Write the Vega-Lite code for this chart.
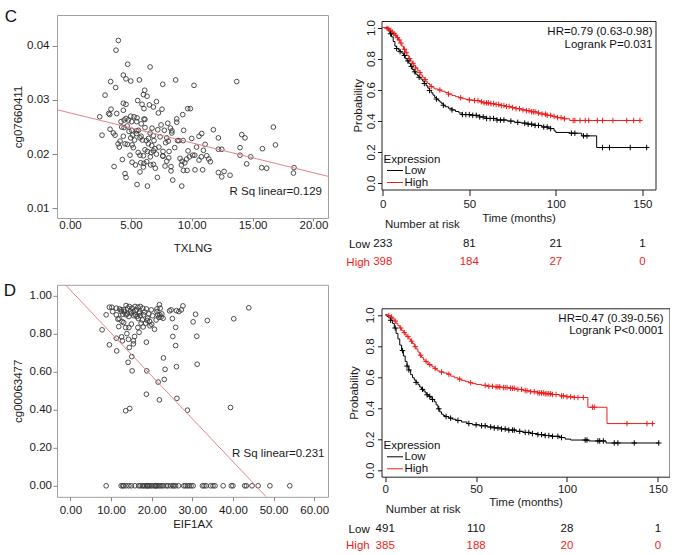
{
"$schema":"https://vega.github.io/schema/vega-lite/v6.json",
"padding":{"left":3,"top":7,"right":0,"bottom":0},
"spacing":15.5,
"columns":2,
"align":"none",
"config":{
 "font":"Liberation Sans",
 "view":{"stroke":"#9a9a9a"},
 "axis":{"grid":false,"domain":false,"labelFont":"Liberation Sans","titleFont":"Liberation Sans","labelFontSize":11.5,"titleFontSize":11.5,"titleFontWeight":"normal","labelColor":"#1a1a1a","titleColor":"#1a1a1a","tickColor":"#1a1a1a","labelFlush":false,"labelOverlap":false},
 "title":{"font":"Liberation Sans","fontSize":11.5,"fontWeight":"normal","color":"#1a1a1a"},
 "legend":{"labelFont":"Liberation Sans","titleFont":"Liberation Sans"}
},
"resolve":{"scale":{"color":"independent"},"legend":{"color":"independent"}},
"datasets":{
 "scatterC":[
  {"TXLNG":3.97,"cg07660411":0.0410},{"TXLNG":3.78,"cg07660411":0.0392},{"TXLNG":4.74,"cg07660411":0.0366},{"TXLNG":6.58,"cg07660411":0.0361},{"TXLNG":4.38,"cg07660411":0.0346},{"TXLNG":4.60,"cg07660411":0.0339},{"TXLNG":3.34,"cg07660411":0.0334},{"TXLNG":4.99,"cg07660411":0.0335},{"TXLNG":5.70,"cg07660411":0.0337},{"TXLNG":7.62,"cg07660411":0.0329},{"TXLNG":8.68,"cg07660411":0.0337},{"TXLNG":10.19,"cg07660411":0.0327},{"TXLNG":13.70,"cg07660411":0.0334},{"TXLNG":3.75,"cg07660411":0.0323},{"TXLNG":2.88,"cg07660411":0.0309},{"TXLNG":6.14,"cg07660411":0.0318},{"TXLNG":6.03,"cg07660411":0.0310},{"TXLNG":6.33,"cg07660411":0.0307},{"TXLNG":5.56,"cg07660411":0.0299},{"TXLNG":7.10,"cg07660411":0.0297},
  {"TXLNG":4.38,"cg07660411":0.0294},{"TXLNG":4.60,"cg07660411":0.0292},{"TXLNG":5.92,"cg07660411":0.0292},{"TXLNG":6.52,"cg07660411":0.0291},{"TXLNG":6.08,"cg07660411":0.0284},{"TXLNG":7.56,"cg07660411":0.0283},{"TXLNG":6.85,"cg07660411":0.0287},{"TXLNG":9.67,"cg07660411":0.0284},{"TXLNG":9.89,"cg07660411":0.0284},{"TXLNG":3.37,"cg07660411":0.0283},{"TXLNG":3.84,"cg07660411":0.0275},{"TXLNG":3.18,"cg07660411":0.0275},{"TXLNG":3.26,"cg07660411":0.0273},{"TXLNG":4.38,"cg07660411":0.0281},{"TXLNG":7.26,"cg07660411":0.0276},{"TXLNG":9.26,"cg07660411":0.0273},{"TXLNG":2.44,"cg07660411":0.0269},{"TXLNG":4.99,"cg07660411":0.0270},{"TXLNG":5.26,"cg07660411":0.0269},{"TXLNG":5.51,"cg07660411":0.0267},
  {"TXLNG":4.60,"cg07660411":0.0266},{"TXLNG":6.08,"cg07660411":0.0265},{"TXLNG":6.16,"cg07660411":0.0264},{"TXLNG":4.44,"cg07660411":0.0263},{"TXLNG":4.79,"cg07660411":0.0263},{"TXLNG":8.77,"cg07660411":0.0265},{"TXLNG":4.19,"cg07660411":0.0260},{"TXLNG":5.07,"cg07660411":0.0260},{"TXLNG":5.48,"cg07660411":0.0260},{"TXLNG":8.77,"cg07660411":0.0259},{"TXLNG":8.03,"cg07660411":0.0257},{"TXLNG":7.48,"cg07660411":0.0254},{"TXLNG":6.74,"cg07660411":0.0248},{"TXLNG":6.16,"cg07660411":0.0249},{"TXLNG":4.44,"cg07660411":0.0249},{"TXLNG":4.25,"cg07660411":0.0250},{"TXLNG":8.25,"cg07660411":0.0248},{"TXLNG":11.78,"cg07660411":0.0245},{"TXLNG":14.11,"cg07660411":0.0236},{"TXLNG":16.71,"cg07660411":0.0250},
  {"TXLNG":3.29,"cg07660411":0.0246},{"TXLNG":2.63,"cg07660411":0.0235},{"TXLNG":3.56,"cg07660411":0.0239},{"TXLNG":3.70,"cg07660411":0.0235},{"TXLNG":5.07,"cg07660411":0.0244},{"TXLNG":5.48,"cg07660411":0.0243},{"TXLNG":5.62,"cg07660411":0.0244},{"TXLNG":5.15,"cg07660411":0.0235},{"TXLNG":4.99,"cg07660411":0.0230},{"TXLNG":4.38,"cg07660411":0.0233},{"TXLNG":5.84,"cg07660411":0.0233},{"TXLNG":5.75,"cg07660411":0.0230},{"TXLNG":6.58,"cg07660411":0.0239},{"TXLNG":6.85,"cg07660411":0.0234},{"TXLNG":7.21,"cg07660411":0.0245},{"TXLNG":7.75,"cg07660411":0.0244},{"TXLNG":8.38,"cg07660411":0.0243},{"TXLNG":8.36,"cg07660411":0.0239},{"TXLNG":9.34,"cg07660411":0.0244},{"TXLNG":10.82,"cg07660411":0.0238},
  {"TXLNG":10.60,"cg07660411":0.0233},{"TXLNG":12.19,"cg07660411":0.0230},{"TXLNG":14.38,"cg07660411":0.0230},{"TXLNG":4.11,"cg07660411":0.0224},{"TXLNG":4.52,"cg07660411":0.0219},{"TXLNG":4.71,"cg07660411":0.0218},{"TXLNG":5.10,"cg07660411":0.0217},{"TXLNG":4.05,"cg07660411":0.0213},{"TXLNG":6.27,"cg07660411":0.0225},{"TXLNG":6.44,"cg07660411":0.0219},{"TXLNG":6.71,"cg07660411":0.0216},{"TXLNG":6.90,"cg07660411":0.0225},{"TXLNG":6.99,"cg07660411":0.0210},{"TXLNG":6.16,"cg07660411":0.0208},{"TXLNG":6.36,"cg07660411":0.0205},{"TXLNG":6.66,"cg07660411":0.0203},{"TXLNG":7.10,"cg07660411":0.0200},{"TXLNG":7.64,"cg07660411":0.0205},{"TXLNG":7.64,"cg07660411":0.0196},{"TXLNG":8.11,"cg07660411":0.0193},
  {"TXLNG":8.14,"cg07660411":0.0205},{"TXLNG":7.86,"cg07660411":0.0221},{"TXLNG":8.07,"cg07660411":0.0224},{"TXLNG":8.84,"cg07660411":0.0225},{"TXLNG":8.95,"cg07660411":0.0225},{"TXLNG":9.30,"cg07660411":0.0225},{"TXLNG":10.00,"cg07660411":0.0229},{"TXLNG":10.08,"cg07660411":0.0198},{"TXLNG":9.81,"cg07660411":0.0195},{"TXLNG":9.59,"cg07660411":0.0191},{"TXLNG":9.04,"cg07660411":0.0192},{"TXLNG":9.21,"cg07660411":0.0187},{"TXLNG":9.43,"cg07660411":0.0184},{"TXLNG":9.15,"cg07660411":0.0180},{"TXLNG":9.32,"cg07660411":0.0170},{"TXLNG":9.62,"cg07660411":0.0170},{"TXLNG":10.25,"cg07660411":0.0198},{"TXLNG":10.79,"cg07660411":0.0195},{"TXLNG":11.23,"cg07660411":0.0197},{"TXLNG":11.40,"cg07660411":0.0191},
  {"TXLNG":11.53,"cg07660411":0.0186},{"TXLNG":10.60,"cg07660411":0.0189},{"TXLNG":10.90,"cg07660411":0.0171},{"TXLNG":10.27,"cg07660411":0.0171},{"TXLNG":10.96,"cg07660411":0.0207},{"TXLNG":12.19,"cg07660411":0.0209},{"TXLNG":12.47,"cg07660411":0.0209},{"TXLNG":13.97,"cg07660411":0.0212},{"TXLNG":13.97,"cg07660411":0.0198},{"TXLNG":14.85,"cg07660411":0.0195},{"TXLNG":14.52,"cg07660411":0.0182},{"TXLNG":15.81,"cg07660411":0.0210},{"TXLNG":15.75,"cg07660411":0.0175},{"TXLNG":16.16,"cg07660411":0.0174},{"TXLNG":16.88,"cg07660411":0.0217},{"TXLNG":18.41,"cg07660411":0.0175},{"TXLNG":18.36,"cg07660411":0.0165},{"TXLNG":12.19,"cg07660411":0.0166},{"TXLNG":12.47,"cg07660411":0.0158},{"TXLNG":12.66,"cg07660411":0.0168},
  {"TXLNG":13.15,"cg07660411":0.0161},{"TXLNG":9.18,"cg07660411":0.0141},{"TXLNG":3.62,"cg07660411":0.0177},{"TXLNG":4.30,"cg07660411":0.0190},{"TXLNG":4.93,"cg07660411":0.0198},{"TXLNG":5.10,"cg07660411":0.0185},{"TXLNG":5.38,"cg07660411":0.0180},{"TXLNG":4.52,"cg07660411":0.0164},{"TXLNG":4.60,"cg07660411":0.0157},{"TXLNG":5.51,"cg07660411":0.0144},{"TXLNG":5.75,"cg07660411":0.0198},{"TXLNG":5.81,"cg07660411":0.0184},{"TXLNG":5.75,"cg07660411":0.0167},{"TXLNG":6.08,"cg07660411":0.0183},{"TXLNG":6.30,"cg07660411":0.0186},{"TXLNG":6.03,"cg07660411":0.0176},{"TXLNG":6.36,"cg07660411":0.0141},{"TXLNG":6.63,"cg07660411":0.0180},{"TXLNG":6.85,"cg07660411":0.0181},{"TXLNG":7.01,"cg07660411":0.0174},
  {"TXLNG":7.18,"cg07660411":0.0157},{"TXLNG":7.62,"cg07660411":0.0197},{"TXLNG":7.81,"cg07660411":0.0178},{"TXLNG":8.30,"cg07660411":0.0177},{"TXLNG":8.30,"cg07660411":0.0169},{"TXLNG":8.44,"cg07660411":0.0152},{"TXLNG":6.03,"cg07660411":0.0197},{"TXLNG":5.30,"cg07660411":0.0226},{"TXLNG":5.45,"cg07660411":0.0238},{"TXLNG":5.95,"cg07660411":0.0226},{"TXLNG":6.45,"cg07660411":0.0229},{"TXLNG":4.85,"cg07660411":0.0242},{"TXLNG":7.40,"cg07660411":0.0232},{"TXLNG":7.95,"cg07660411":0.0230},{"TXLNG":5.20,"cg07660411":0.0212},{"TXLNG":6.85,"cg07660411":0.0206},{"TXLNG":7.30,"cg07660411":0.0213},{"TXLNG":8.60,"cg07660411":0.0212},{"TXLNG":5.60,"cg07660411":0.0203},{"TXLNG":4.70,"cg07660411":0.0252},
  {"TXLNG":5.85,"cg07660411":0.0256},{"TXLNG":9.70,"cg07660411":0.0206},{"TXLNG":10.40,"cg07660411":0.0213},{"TXLNG":11.10,"cg07660411":0.0218},{"TXLNG":3.95,"cg07660411":0.0219},{"TXLNG":6.60,"cg07660411":0.0195},{"TXLNG":7.95,"cg07660411":0.0187}
 ],
 "fitC":[{"TXLNG":-1.07,"cg07660411":0.0282},{"TXLNG":21.2,"cg07660411":0.0159}],
 "scatterD":[
  {"EIF1AX":9.6,"cg00063477":0.940},{"EIF1AX":10.2,"cg00063477":0.940},{"EIF1AX":11.3,"cg00063477":0.935},{"EIF1AX":12.1,"cg00063477":0.931},{"EIF1AX":12.5,"cg00063477":0.926},{"EIF1AX":13.1,"cg00063477":0.926},{"EIF1AX":13.7,"cg00063477":0.949},{"EIF1AX":14.1,"cg00063477":0.935},{"EIF1AX":14.5,"cg00063477":0.944},{"EIF1AX":15.2,"cg00063477":0.935},{"EIF1AX":15.9,"cg00063477":0.944},{"EIF1AX":16.6,"cg00063477":0.940},{"EIF1AX":17.2,"cg00063477":0.944},{"EIF1AX":17.8,"cg00063477":0.935},{"EIF1AX":18.7,"cg00063477":0.931},{"EIF1AX":19.9,"cg00063477":0.926},{"EIF1AX":21.3,"cg00063477":0.931},{"EIF1AX":21.9,"cg00063477":0.953},{"EIF1AX":22.1,"cg00063477":0.935},{"EIF1AX":21.3,"cg00063477":0.917},
  {"EIF1AX":21.5,"cg00063477":0.900},{"EIF1AX":21.8,"cg00063477":0.886},{"EIF1AX":22.3,"cg00063477":0.888},{"EIF1AX":22.8,"cg00063477":0.882},{"EIF1AX":21.1,"cg00063477":0.873},{"EIF1AX":8.8,"cg00063477":0.900},{"EIF1AX":7.8,"cg00063477":0.821},{"EIF1AX":12.5,"cg00063477":0.917},{"EIF1AX":12.9,"cg00063477":0.903},{"EIF1AX":12.7,"cg00063477":0.865},{"EIF1AX":13.1,"cg00063477":0.859},{"EIF1AX":13.7,"cg00063477":0.900},{"EIF1AX":14.4,"cg00063477":0.891},{"EIF1AX":15.0,"cg00063477":0.909},{"EIF1AX":15.5,"cg00063477":0.917},{"EIF1AX":16.0,"cg00063477":0.900},{"EIF1AX":16.4,"cg00063477":0.891},{"EIF1AX":16.9,"cg00063477":0.909},{"EIF1AX":17.2,"cg00063477":0.896},{"EIF1AX":17.7,"cg00063477":0.873},
  {"EIF1AX":18.0,"cg00063477":0.900},{"EIF1AX":19.0,"cg00063477":0.882},{"EIF1AX":19.5,"cg00063477":0.865},{"EIF1AX":19.6,"cg00063477":0.842},{"EIF1AX":18.5,"cg00063477":0.856},{"EIF1AX":17.4,"cg00063477":0.856},{"EIF1AX":16.6,"cg00063477":0.833},{"EIF1AX":15.0,"cg00063477":0.851},{"EIF1AX":14.4,"cg00063477":0.833},{"EIF1AX":13.6,"cg00063477":0.833},{"EIF1AX":11.9,"cg00063477":0.838},{"EIF1AX":11.7,"cg00063477":0.877},{"EIF1AX":11.3,"cg00063477":0.900},{"EIF1AX":10.4,"cg00063477":0.917},{"EIF1AX":20.7,"cg00063477":0.824},{"EIF1AX":16.9,"cg00063477":0.808},{"EIF1AX":15.8,"cg00063477":0.786},{"EIF1AX":15.5,"cg00063477":0.763},{"EIF1AX":15.5,"cg00063477":0.747},{"EIF1AX":14.5,"cg00063477":0.728},
  {"EIF1AX":13.9,"cg00063477":0.801},{"EIF1AX":14.3,"cg00063477":0.771},{"EIF1AX":12.6,"cg00063477":0.784},{"EIF1AX":12.8,"cg00063477":0.763},{"EIF1AX":11.3,"cg00063477":0.777},{"EIF1AX":11.4,"cg00063477":0.710},{"EIF1AX":9.6,"cg00063477":0.742},{"EIF1AX":18.7,"cg00063477":0.756},{"EIF1AX":15.1,"cg00063477":0.680},{"EIF1AX":14.2,"cg00063477":0.650},{"EIF1AX":15.2,"cg00063477":0.605},{"EIF1AX":18.8,"cg00063477":0.605},{"EIF1AX":21.6,"cg00063477":0.546},{"EIF1AX":22.9,"cg00063477":0.673},{"EIF1AX":23.3,"cg00063477":0.613},{"EIF1AX":23.1,"cg00063477":0.560},{"EIF1AX":21.9,"cg00063477":0.452},{"EIF1AX":18.7,"cg00063477":0.482},{"EIF1AX":13.6,"cg00063477":0.395},{"EIF1AX":14.6,"cg00063477":0.407},
  {"EIF1AX":26.2,"cg00063477":0.460},{"EIF1AX":28.8,"cg00063477":0.398},{"EIF1AX":39.4,"cg00063477":0.412},{"EIF1AX":25.1,"cg00063477":0.880},{"EIF1AX":25.9,"cg00063477":0.834},{"EIF1AX":25.2,"cg00063477":0.786},{"EIF1AX":25.9,"cg00063477":0.738},{"EIF1AX":26.1,"cg00063477":0.627},{"EIF1AX":26.1,"cg00063477":0.922},{"EIF1AX":26.7,"cg00063477":0.917},{"EIF1AX":27.3,"cg00063477":0.926},{"EIF1AX":27.7,"cg00063477":0.947},{"EIF1AX":30.2,"cg00063477":0.863},{"EIF1AX":30.8,"cg00063477":0.903},{"EIF1AX":31.1,"cg00063477":0.787},{"EIF1AX":31.2,"cg00063477":0.640},{"EIF1AX":33.7,"cg00063477":0.870},{"EIF1AX":40.2,"cg00063477":0.879},{"EIF1AX":43.9,"cg00063477":0.937},{"EIF1AX":24.4,"cg00063477":0.921},
  {"EIF1AX":24.8,"cg00063477":0.926},{"EIF1AX":14.8,"cg00063477":0.920},{"EIF1AX":16.2,"cg00063477":0.925},{"EIF1AX":17.0,"cg00063477":0.915},{"EIF1AX":18.3,"cg00063477":0.915},{"EIF1AX":19.3,"cg00063477":0.905},{"EIF1AX":20.2,"cg00063477":0.895},{"EIF1AX":13.3,"cg00063477":0.915},{"EIF1AX":14.0,"cg00063477":0.905},{"EIF1AX":15.6,"cg00063477":0.895},{"EIF1AX":16.7,"cg00063477":0.880},{"EIF1AX":18.9,"cg00063477":0.870},{"EIF1AX":20.0,"cg00063477":0.850},{"EIF1AX":12.0,"cg00063477":0.880},{"EIF1AX":17.9,"cg00063477":0.836},{"EIF1AX":22.0,"cg00063477":0.900},{"EIF1AX":22.5,"cg00063477":0.905},
  {"EIF1AX":8.8,"cg00063477":0},{"EIF1AX":12.5,"cg00063477":0},{"EIF1AX":12.9,"cg00063477":0},{"EIF1AX":13.1,"cg00063477":0},{"EIF1AX":13.7,"cg00063477":0},{"EIF1AX":14.4,"cg00063477":0},{"EIF1AX":15.0,"cg00063477":0},{"EIF1AX":15.9,"cg00063477":0},{"EIF1AX":16.8,"cg00063477":0},{"EIF1AX":17.2,"cg00063477":0},{"EIF1AX":17.7,"cg00063477":0},{"EIF1AX":18.0,"cg00063477":0},{"EIF1AX":18.4,"cg00063477":0},{"EIF1AX":18.8,"cg00063477":0},{"EIF1AX":19.0,"cg00063477":0},{"EIF1AX":19.2,"cg00063477":0},{"EIF1AX":19.6,"cg00063477":0},{"EIF1AX":20.0,"cg00063477":0},{"EIF1AX":20.5,"cg00063477":0},{"EIF1AX":20.9,"cg00063477":0},
  {"EIF1AX":21.0,"cg00063477":0},{"EIF1AX":21.3,"cg00063477":0},{"EIF1AX":21.7,"cg00063477":0},{"EIF1AX":22.1,"cg00063477":0},{"EIF1AX":22.5,"cg00063477":0},{"EIF1AX":22.9,"cg00063477":0},{"EIF1AX":23.6,"cg00063477":0},{"EIF1AX":24.0,"cg00063477":0},{"EIF1AX":24.6,"cg00063477":0},{"EIF1AX":25.2,"cg00063477":0},{"EIF1AX":25.4,"cg00063477":0},{"EIF1AX":25.9,"cg00063477":0},{"EIF1AX":26.6,"cg00063477":0},{"EIF1AX":27.9,"cg00063477":0},{"EIF1AX":28.3,"cg00063477":0},{"EIF1AX":28.8,"cg00063477":0},{"EIF1AX":29.2,"cg00063477":0},{"EIF1AX":29.7,"cg00063477":0},{"EIF1AX":30.2,"cg00063477":0},{"EIF1AX":32.5,"cg00063477":0},
  {"EIF1AX":32.9,"cg00063477":0},{"EIF1AX":33.4,"cg00063477":0},{"EIF1AX":34.5,"cg00063477":0},{"EIF1AX":35.1,"cg00063477":0},{"EIF1AX":35.6,"cg00063477":0},{"EIF1AX":37.6,"cg00063477":0},{"EIF1AX":39.6,"cg00063477":0},{"EIF1AX":40.0,"cg00063477":0},{"EIF1AX":42.9,"cg00063477":0},{"EIF1AX":43.3,"cg00063477":0},{"EIF1AX":44.7,"cg00063477":0},{"EIF1AX":46.2,"cg00063477":0},{"EIF1AX":49.1,"cg00063477":0},{"EIF1AX":54.0,"cg00063477":0}
 ],
 "fitD":[{"EIF1AX":-1.23,"cg00063477":1.058},{"EIF1AX":48.2,"cg00063477":-0.058}],
 "kmC":[
  {"Expression":"Low","time":0,"prob":1},{"Expression":"Low","time":3,"prob":0.98},{"Expression":"Low","time":4,"prob":0.96},{"Expression":"Low","time":5,"prob":0.94},{"Expression":"Low","time":6,"prob":0.91},{"Expression":"Low","time":7,"prob":0.88},{"Expression":"Low","time":8,"prob":0.865},{"Expression":"Low","time":9,"prob":0.855},{"Expression":"Low","time":10,"prob":0.845},{"Expression":"Low","time":11,"prob":0.835},{"Expression":"Low","time":12,"prob":0.82},{"Expression":"Low","time":13,"prob":0.8},{"Expression":"Low","time":14,"prob":0.785},{"Expression":"Low","time":15,"prob":0.77},{"Expression":"Low","time":16,"prob":0.75},{"Expression":"Low","time":17,"prob":0.73},{"Expression":"Low","time":18,"prob":0.715},{"Expression":"Low","time":19,"prob":0.7},{"Expression":"Low","time":20,"prob":0.69},{"Expression":"Low","time":21,"prob":0.68},
  {"Expression":"Low","time":22,"prob":0.668},{"Expression":"Low","time":23,"prob":0.655},{"Expression":"Low","time":24,"prob":0.64},{"Expression":"Low","time":25,"prob":0.625},{"Expression":"Low","time":26,"prob":0.61},{"Expression":"Low","time":27,"prob":0.595},{"Expression":"Low","time":28,"prob":0.58},{"Expression":"Low","time":29,"prob":0.565},{"Expression":"Low","time":30,"prob":0.55},{"Expression":"Low","time":31,"prob":0.54},{"Expression":"Low","time":32,"prob":0.53},{"Expression":"Low","time":33,"prob":0.52},{"Expression":"Low","time":34,"prob":0.51},{"Expression":"Low","time":35,"prob":0.5},{"Expression":"Low","time":36,"prob":0.49},{"Expression":"Low","time":38,"prob":0.48},{"Expression":"Low","time":40,"prob":0.47},{"Expression":"Low","time":42,"prob":0.46},{"Expression":"Low","time":44,"prob":0.45},{"Expression":"Low","time":46,"prob":0.44},
  {"Expression":"Low","time":52,"prob":0.435},{"Expression":"Low","time":56,"prob":0.425},{"Expression":"Low","time":60,"prob":0.415},{"Expression":"Low","time":66,"prob":0.405},{"Expression":"Low","time":72,"prob":0.398},{"Expression":"Low","time":76,"prob":0.39},{"Expression":"Low","time":80,"prob":0.385},{"Expression":"Low","time":84,"prob":0.378},{"Expression":"Low","time":88,"prob":0.37},{"Expression":"Low","time":92,"prob":0.36},{"Expression":"Low","time":96,"prob":0.35},{"Expression":"Low","time":99,"prob":0.335},{"Expression":"Low","time":100,"prob":0.325},{"Expression":"Low","time":108,"prob":0.32},{"Expression":"Low","time":115,"prob":0.303},{"Expression":"Low","time":123.6,"prob":0.228},{"Expression":"Low","time":152.5,"prob":0.228},
  {"Expression":"High","time":0,"prob":1},{"Expression":"High","time":2,"prob":0.995},{"Expression":"High","time":3,"prob":0.99},{"Expression":"High","time":4,"prob":0.98},{"Expression":"High","time":5,"prob":0.97},{"Expression":"High","time":6,"prob":0.96},{"Expression":"High","time":7,"prob":0.95},{"Expression":"High","time":8,"prob":0.935},{"Expression":"High","time":9,"prob":0.92},{"Expression":"High","time":10,"prob":0.9},{"Expression":"High","time":11,"prob":0.88},{"Expression":"High","time":12,"prob":0.86},{"Expression":"High","time":13,"prob":0.84},{"Expression":"High","time":14,"prob":0.82},{"Expression":"High","time":15,"prob":0.8},{"Expression":"High","time":16,"prob":0.785},{"Expression":"High","time":17,"prob":0.77},{"Expression":"High","time":18,"prob":0.755},{"Expression":"High","time":19,"prob":0.74},{"Expression":"High","time":20,"prob":0.725},
  {"Expression":"High","time":21,"prob":0.71},{"Expression":"High","time":22,"prob":0.695},{"Expression":"High","time":23,"prob":0.68},{"Expression":"High","time":24,"prob":0.665},{"Expression":"High","time":25,"prob":0.65},{"Expression":"High","time":26,"prob":0.64},{"Expression":"High","time":27,"prob":0.63},{"Expression":"High","time":28,"prob":0.62},{"Expression":"High","time":29,"prob":0.612},{"Expression":"High","time":30,"prob":0.605},{"Expression":"High","time":32,"prob":0.598},{"Expression":"High","time":34,"prob":0.59},{"Expression":"High","time":36,"prob":0.582},{"Expression":"High","time":38,"prob":0.572},{"Expression":"High","time":40,"prob":0.562},{"Expression":"High","time":42,"prob":0.555},{"Expression":"High","time":44,"prob":0.548},{"Expression":"High","time":46,"prob":0.542},{"Expression":"High","time":48,"prob":0.538},{"Expression":"High","time":50,"prob":0.534},
  {"Expression":"High","time":53,"prob":0.53},{"Expression":"High","time":56,"prob":0.522},{"Expression":"High","time":58,"prob":0.515},{"Expression":"High","time":62,"prob":0.51},{"Expression":"High","time":65,"prob":0.505},{"Expression":"High","time":68,"prob":0.498},{"Expression":"High","time":71,"prob":0.492},{"Expression":"High","time":74,"prob":0.485},{"Expression":"High","time":77,"prob":0.478},{"Expression":"High","time":80,"prob":0.47},{"Expression":"High","time":83,"prob":0.465},{"Expression":"High","time":86,"prob":0.458},{"Expression":"High","time":89,"prob":0.45},{"Expression":"High","time":92,"prob":0.443},{"Expression":"High","time":95,"prob":0.435},{"Expression":"High","time":98,"prob":0.428},{"Expression":"High","time":101,"prob":0.42},{"Expression":"High","time":104,"prob":0.413},{"Expression":"High","time":108,"prob":0.402},{"Expression":"High","time":148.6,"prob":0.402}
 ],
 "censorC":[
  {"Expression":"High","time":2.5,"prob":0.995},{"Expression":"High","time":3.5,"prob":0.99},{"Expression":"High","time":4.5,"prob":0.98},{"Expression":"High","time":5.5,"prob":0.97},{"Expression":"High","time":6.5,"prob":0.96},{"Expression":"High","time":7.5,"prob":0.95},{"Expression":"High","time":8.5,"prob":0.935},{"Expression":"High","time":9.5,"prob":0.92},{"Expression":"High","time":10.5,"prob":0.9},{"Expression":"High","time":12.5,"prob":0.86},{"Expression":"High","time":13.5,"prob":0.84},{"Expression":"High","time":15.5,"prob":0.8},{"Expression":"High","time":17.5,"prob":0.77},{"Expression":"High","time":19,"prob":0.74},{"Expression":"High","time":21.5,"prob":0.71},{"Expression":"High","time":24.5,"prob":0.665},{"Expression":"High","time":28,"prob":0.62},{"Expression":"High","time":33,"prob":0.598},{"Expression":"High","time":38,"prob":0.572},{"Expression":"High","time":45,"prob":0.548},
  {"Expression":"High","time":50,"prob":0.534},{"Expression":"High","time":53,"prob":0.53},{"Expression":"High","time":55,"prob":0.53},{"Expression":"High","time":57,"prob":0.522},{"Expression":"High","time":58.5,"prob":0.515},{"Expression":"High","time":60,"prob":0.515},{"Expression":"High","time":61,"prob":0.515},{"Expression":"High","time":62.5,"prob":0.51},{"Expression":"High","time":64,"prob":0.51},{"Expression":"High","time":65.5,"prob":0.505},{"Expression":"High","time":67,"prob":0.505},{"Expression":"High","time":68.5,"prob":0.498},{"Expression":"High","time":70,"prob":0.498},{"Expression":"High","time":71.5,"prob":0.492},{"Expression":"High","time":73,"prob":0.492},{"Expression":"High","time":75,"prob":0.485},{"Expression":"High","time":77,"prob":0.478},{"Expression":"High","time":79,"prob":0.478},{"Expression":"High","time":81,"prob":0.47},{"Expression":"High","time":83,"prob":0.465},
  {"Expression":"High","time":84.5,"prob":0.465},{"Expression":"High","time":86,"prob":0.458},{"Expression":"High","time":87,"prob":0.458},{"Expression":"High","time":88,"prob":0.458},{"Expression":"High","time":90,"prob":0.45},{"Expression":"High","time":92,"prob":0.443},{"Expression":"High","time":94,"prob":0.443},{"Expression":"High","time":95,"prob":0.435},{"Expression":"High","time":97,"prob":0.435},{"Expression":"High","time":99,"prob":0.428},{"Expression":"High","time":101,"prob":0.42},{"Expression":"High","time":103,"prob":0.42},{"Expression":"High","time":105,"prob":0.413},{"Expression":"High","time":110,"prob":0.402},{"Expression":"High","time":111,"prob":0.402},{"Expression":"High","time":114,"prob":0.402},{"Expression":"High","time":117,"prob":0.402},{"Expression":"High","time":119,"prob":0.402},{"Expression":"High","time":124,"prob":0.402},{"Expression":"High","time":127,"prob":0.402},
  {"Expression":"High","time":133,"prob":0.402},{"Expression":"High","time":141,"prob":0.402},{"Expression":"High","time":145,"prob":0.402},{"Expression":"High","time":148.6,"prob":0.402},
  {"Expression":"Low","time":4.5,"prob":0.96},{"Expression":"Low","time":8,"prob":0.865},{"Expression":"Low","time":10,"prob":0.845},{"Expression":"Low","time":12.5,"prob":0.82},{"Expression":"Low","time":14.5,"prob":0.785},{"Expression":"Low","time":16.5,"prob":0.75},{"Expression":"Low","time":18.5,"prob":0.715},{"Expression":"Low","time":21,"prob":0.68},{"Expression":"Low","time":24,"prob":0.64},{"Expression":"Low","time":27,"prob":0.595},{"Expression":"Low","time":31,"prob":0.54},{"Expression":"Low","time":35,"prob":0.5},{"Expression":"Low","time":40,"prob":0.47},{"Expression":"Low","time":46,"prob":0.44},{"Expression":"Low","time":48,"prob":0.44},{"Expression":"Low","time":50,"prob":0.44},{"Expression":"Low","time":52,"prob":0.435},{"Expression":"Low","time":54,"prob":0.435},{"Expression":"Low","time":56,"prob":0.425},{"Expression":"Low","time":58,"prob":0.425},
  {"Expression":"Low","time":60,"prob":0.415},{"Expression":"Low","time":62,"prob":0.415},{"Expression":"Low","time":64,"prob":0.415},{"Expression":"Low","time":66,"prob":0.405},{"Expression":"Low","time":68,"prob":0.405},{"Expression":"Low","time":70,"prob":0.405},{"Expression":"Low","time":74,"prob":0.398},{"Expression":"Low","time":78,"prob":0.39},{"Expression":"Low","time":82,"prob":0.385},{"Expression":"Low","time":84,"prob":0.378},{"Expression":"Low","time":86,"prob":0.378},{"Expression":"Low","time":88,"prob":0.37},{"Expression":"Low","time":90,"prob":0.37},{"Expression":"Low","time":93,"prob":0.36},{"Expression":"Low","time":95,"prob":0.36},{"Expression":"Low","time":97,"prob":0.35},{"Expression":"Low","time":109,"prob":0.32},{"Expression":"Low","time":111,"prob":0.32},{"Expression":"Low","time":116,"prob":0.303},{"Expression":"Low","time":118,"prob":0.303},
  {"Expression":"Low","time":127,"prob":0.228},{"Expression":"Low","time":131,"prob":0.228},{"Expression":"Low","time":143,"prob":0.228},{"Expression":"Low","time":152.5,"prob":0.228}
 ],
 "kmD":[
  {"Expression":"Low","time":0,"prob":1},{"Expression":"Low","time":1,"prob":0.99},{"Expression":"Low","time":2,"prob":0.98},{"Expression":"Low","time":3,"prob":0.965},{"Expression":"Low","time":4,"prob":0.945},{"Expression":"Low","time":5,"prob":0.915},{"Expression":"Low","time":6,"prob":0.88},{"Expression":"Low","time":7,"prob":0.845},{"Expression":"Low","time":8,"prob":0.805},{"Expression":"Low","time":9,"prob":0.77},{"Expression":"Low","time":10,"prob":0.735},{"Expression":"Low","time":11,"prob":0.7},{"Expression":"Low","time":12,"prob":0.67},{"Expression":"Low","time":13,"prob":0.645},{"Expression":"Low","time":14,"prob":0.615},{"Expression":"Low","time":15,"prob":0.595},{"Expression":"Low","time":16,"prob":0.58},{"Expression":"Low","time":17,"prob":0.565},{"Expression":"Low","time":18,"prob":0.55},{"Expression":"Low","time":19,"prob":0.535},
  {"Expression":"Low","time":20,"prob":0.52},{"Expression":"Low","time":21,"prob":0.51},{"Expression":"Low","time":22,"prob":0.497},{"Expression":"Low","time":23,"prob":0.485},{"Expression":"Low","time":24,"prob":0.475},{"Expression":"Low","time":25,"prob":0.465},{"Expression":"Low","time":26,"prob":0.455},{"Expression":"Low","time":27,"prob":0.44},{"Expression":"Low","time":28,"prob":0.42},{"Expression":"Low","time":29,"prob":0.395},{"Expression":"Low","time":30,"prob":0.375},{"Expression":"Low","time":31,"prob":0.36},{"Expression":"Low","time":32,"prob":0.352},{"Expression":"Low","time":33,"prob":0.345},{"Expression":"Low","time":35,"prob":0.335},{"Expression":"Low","time":37,"prob":0.328},{"Expression":"Low","time":39,"prob":0.32},{"Expression":"Low","time":42,"prob":0.31},{"Expression":"Low","time":45,"prob":0.3},{"Expression":"Low","time":48,"prob":0.292},
  {"Expression":"Low","time":52,"prob":0.286},{"Expression":"Low","time":56,"prob":0.278},{"Expression":"Low","time":60,"prob":0.272},{"Expression":"Low","time":64,"prob":0.265},{"Expression":"Low","time":68,"prob":0.258},{"Expression":"Low","time":72,"prob":0.25},{"Expression":"Low","time":76,"prob":0.243},{"Expression":"Low","time":80,"prob":0.236},{"Expression":"Low","time":84,"prob":0.229},{"Expression":"Low","time":88,"prob":0.223},{"Expression":"Low","time":92,"prob":0.218},{"Expression":"Low","time":96,"prob":0.21},{"Expression":"Low","time":99,"prob":0.2},{"Expression":"Low","time":102,"prob":0.194},{"Expression":"Low","time":112,"prob":0.188},{"Expression":"Low","time":121.5,"prob":0.175},{"Expression":"Low","time":150.5,"prob":0.175},
  {"Expression":"High","time":0,"prob":1},{"Expression":"High","time":1.5,"prob":0.995},{"Expression":"High","time":3,"prob":0.985},{"Expression":"High","time":4,"prob":0.975},{"Expression":"High","time":5,"prob":0.96},{"Expression":"High","time":6,"prob":0.945},{"Expression":"High","time":7,"prob":0.93},{"Expression":"High","time":8,"prob":0.915},{"Expression":"High","time":9,"prob":0.9},{"Expression":"High","time":10,"prob":0.885},{"Expression":"High","time":11,"prob":0.87},{"Expression":"High","time":12,"prob":0.86},{"Expression":"High","time":13,"prob":0.845},{"Expression":"High","time":14,"prob":0.83},{"Expression":"High","time":15,"prob":0.815},{"Expression":"High","time":16,"prob":0.795},{"Expression":"High","time":17,"prob":0.78},{"Expression":"High","time":18,"prob":0.76},{"Expression":"High","time":19,"prob":0.74},{"Expression":"High","time":20,"prob":0.725},
  {"Expression":"High","time":21,"prob":0.71},{"Expression":"High","time":22,"prob":0.7},{"Expression":"High","time":23,"prob":0.69},{"Expression":"High","time":24,"prob":0.68},{"Expression":"High","time":25,"prob":0.672},{"Expression":"High","time":26,"prob":0.665},{"Expression":"High","time":27,"prob":0.655},{"Expression":"High","time":28,"prob":0.645},{"Expression":"High","time":29,"prob":0.638},{"Expression":"High","time":30,"prob":0.632},{"Expression":"High","time":32,"prob":0.626},{"Expression":"High","time":34,"prob":0.618},{"Expression":"High","time":36,"prob":0.605},{"Expression":"High","time":38,"prob":0.595},{"Expression":"High","time":40,"prob":0.586},{"Expression":"High","time":42,"prob":0.578},{"Expression":"High","time":44,"prob":0.57},{"Expression":"High","time":46,"prob":0.563},{"Expression":"High","time":48,"prob":0.557},{"Expression":"High","time":50,"prob":0.552},
  {"Expression":"High","time":53,"prob":0.546},{"Expression":"High","time":56,"prob":0.54},{"Expression":"High","time":60,"prob":0.536},{"Expression":"High","time":64,"prob":0.532},{"Expression":"High","time":68,"prob":0.527},{"Expression":"High","time":72,"prob":0.52},{"Expression":"High","time":76,"prob":0.512},{"Expression":"High","time":80,"prob":0.505},{"Expression":"High","time":84,"prob":0.497},{"Expression":"High","time":88,"prob":0.492},{"Expression":"High","time":92,"prob":0.487},{"Expression":"High","time":96,"prob":0.478},{"Expression":"High","time":100,"prob":0.472},{"Expression":"High","time":104,"prob":0.468},{"Expression":"High","time":111.5,"prob":0.405},{"Expression":"High","time":122,"prob":0.3},{"Expression":"High","time":147,"prob":0.3}
 ],
 "censorD":[
  {"Expression":"High","time":2,"prob":0.995},{"Expression":"High","time":3.5,"prob":0.985},{"Expression":"High","time":5.5,"prob":0.96},{"Expression":"High","time":8.5,"prob":0.915},{"Expression":"High","time":10.5,"prob":0.885},{"Expression":"High","time":12.5,"prob":0.86},{"Expression":"High","time":14.5,"prob":0.83},{"Expression":"High","time":16.5,"prob":0.795},{"Expression":"High","time":19.5,"prob":0.74},{"Expression":"High","time":22.5,"prob":0.7},{"Expression":"High","time":24.5,"prob":0.68},{"Expression":"High","time":27.5,"prob":0.655},{"Expression":"High","time":31,"prob":0.632},{"Expression":"High","time":35,"prob":0.618},{"Expression":"High","time":41,"prob":0.586},{"Expression":"High","time":47,"prob":0.563},{"Expression":"High","time":55,"prob":0.546},{"Expression":"High","time":57,"prob":0.54},{"Expression":"High","time":59,"prob":0.54},{"Expression":"High","time":61,"prob":0.536},
  {"Expression":"High","time":62,"prob":0.536},{"Expression":"High","time":63,"prob":0.536},{"Expression":"High","time":65,"prob":0.532},{"Expression":"High","time":66,"prob":0.532},{"Expression":"High","time":67,"prob":0.532},{"Expression":"High","time":69,"prob":0.527},{"Expression":"High","time":70,"prob":0.527},{"Expression":"High","time":71,"prob":0.527},{"Expression":"High","time":73,"prob":0.52},{"Expression":"High","time":75,"prob":0.52},{"Expression":"High","time":77,"prob":0.512},{"Expression":"High","time":78,"prob":0.512},{"Expression":"High","time":80,"prob":0.505},{"Expression":"High","time":82,"prob":0.505},{"Expression":"High","time":84,"prob":0.497},{"Expression":"High","time":85,"prob":0.497},{"Expression":"High","time":86,"prob":0.497},{"Expression":"High","time":87,"prob":0.497},{"Expression":"High","time":88,"prob":0.492},{"Expression":"High","time":89,"prob":0.492},
  {"Expression":"High","time":90,"prob":0.492},{"Expression":"High","time":91,"prob":0.492},{"Expression":"High","time":92,"prob":0.487},{"Expression":"High","time":94,"prob":0.487},{"Expression":"High","time":97,"prob":0.478},{"Expression":"High","time":98,"prob":0.478},{"Expression":"High","time":100,"prob":0.472},{"Expression":"High","time":102,"prob":0.472},{"Expression":"High","time":104,"prob":0.468},{"Expression":"High","time":106,"prob":0.468},{"Expression":"High","time":109,"prob":0.468},{"Expression":"High","time":114,"prob":0.405},{"Expression":"High","time":115,"prob":0.405},{"Expression":"High","time":133,"prob":0.3},{"Expression":"High","time":144,"prob":0.3},{"Expression":"High","time":147,"prob":0.3},
  {"Expression":"Low","time":3,"prob":0.965},{"Expression":"Low","time":5.5,"prob":0.915},{"Expression":"Low","time":9.5,"prob":0.77},{"Expression":"Low","time":12,"prob":0.67},{"Expression":"Low","time":13,"prob":0.645},{"Expression":"Low","time":17,"prob":0.565},{"Expression":"Low","time":20.5,"prob":0.52},{"Expression":"Low","time":23,"prob":0.485},{"Expression":"Low","time":24.5,"prob":0.475},{"Expression":"Low","time":26,"prob":0.455},{"Expression":"Low","time":29.5,"prob":0.395},{"Expression":"Low","time":33.5,"prob":0.345},{"Expression":"Low","time":36,"prob":0.335},{"Expression":"Low","time":40,"prob":0.32},{"Expression":"Low","time":46,"prob":0.3},{"Expression":"Low","time":50,"prob":0.292},{"Expression":"Low","time":53,"prob":0.286},{"Expression":"Low","time":55,"prob":0.286},{"Expression":"Low","time":58,"prob":0.278},{"Expression":"Low","time":60,"prob":0.272},
  {"Expression":"Low","time":62,"prob":0.272},{"Expression":"Low","time":64,"prob":0.265},{"Expression":"Low","time":66,"prob":0.265},{"Expression":"Low","time":68,"prob":0.258},{"Expression":"Low","time":70,"prob":0.258},{"Expression":"Low","time":71,"prob":0.258},{"Expression":"Low","time":74,"prob":0.25},{"Expression":"Low","time":77,"prob":0.243},{"Expression":"Low","time":79,"prob":0.243},{"Expression":"Low","time":81,"prob":0.236},{"Expression":"Low","time":84,"prob":0.229},{"Expression":"Low","time":86,"prob":0.229},{"Expression":"Low","time":88,"prob":0.223},{"Expression":"Low","time":90,"prob":0.223},{"Expression":"Low","time":92,"prob":0.218},{"Expression":"Low","time":95,"prob":0.218},{"Expression":"Low","time":97,"prob":0.21},{"Expression":"Low","time":110,"prob":0.194},{"Expression":"Low","time":111,"prob":0.194},{"Expression":"Low","time":117,"prob":0.188},
  {"Expression":"Low","time":118,"prob":0.188},{"Expression":"Low","time":120,"prob":0.188},{"Expression":"Low","time":126,"prob":0.175},{"Expression":"Low","time":128,"prob":0.175},{"Expression":"Low","time":137,"prob":0.175},{"Expression":"Low","time":150.5,"prob":0.175}
 ],
 "riskC":[
  {"Expression":"Low","time":0,"n":233},{"Expression":"Low","time":50,"n":81},{"Expression":"Low","time":100,"n":21},{"Expression":"Low","time":150,"n":1},
  {"Expression":"High","time":0,"n":398},{"Expression":"High","time":50,"n":184},{"Expression":"High","time":100,"n":27},{"Expression":"High","time":150,"n":0}
 ],
 "riskD":[
  {"Expression":"Low","time":0,"n":491},{"Expression":"Low","time":50,"n":110},{"Expression":"Low","time":100,"n":28},{"Expression":"Low","time":150,"n":1},
  {"Expression":"High","time":0,"n":385},{"Expression":"High","time":50,"n":188},{"Expression":"High","time":100,"n":20},{"Expression":"High","time":150,"n":0}
 ]
},
"concat":[
 {"spacing":26.8,"vconcat":[
  {"width":271,"height":203,"view":{"stroke":"#a0a0a0"},
   "layer":[
    {"data":{"name":"scatterC"},"mark":{"type":"point","shape":"circle","filled":false,"size":22,"strokeWidth":0.9,"color":"#3a3a3a","opacity":1},
     "encoding":{
      "x":{"field":"TXLNG","type":"quantitative","scale":{"domain":[-1.07,21.2],"nice":false,"zero":false},"axis":{"values":[0,5,10,15,20],"tickCount":10,"format":".2f","title":"TXLNG","tickSize":3,"labelPadding":-1.3,"titlePadding":11,"tickColor":"#888"}},
      "y":{"field":"cg07660411","type":"quantitative","scale":{"domain":[0.0082,0.0457],"nice":false,"zero":false},"axis":{"values":[0.01,0.02,0.03,0.04],"tickCount":10,"format":".2f","title":"cg07660411","tickSize":5,"labelPadding":3,"titlePadding":3,"tickColor":"#888"}}}},
    {"data":{"name":"fitC"},"mark":{"type":"line","color":"#e8828a","strokeWidth":1,"clip":true},
     "encoding":{"x":{"field":"TXLNG","type":"quantitative"},"y":{"field":"cg07660411","type":"quantitative"}}},
    {"data":{"values":[{}]},"mark":{"type":"text","align":"right","baseline":"middle","dx":-6,"fontSize":11.5,"color":"#1a1a1a"},
     "encoding":{"x":{"datum":21.2},"y":{"datum":0.013},"text":{"value":"R Sq linear=0.129"}}},
    {"data":{"values":[{}]},"mark":{"type":"text","align":"center","baseline":"middle","fontSize":17,"color":"#111"},
     "encoding":{"x":{"datum":-4.86},"y":{"datum":0.0454},"text":{"value":"C"}}}
   ]},
  {"width":271,"height":212,"view":{"stroke":"#a0a0a0"},
   "layer":[
    {"data":{"name":"scatterD"},"mark":{"type":"point","shape":"circle","filled":false,"size":22,"strokeWidth":0.9,"color":"#3a3a3a","opacity":1},
     "encoding":{
      "x":{"field":"EIF1AX","type":"quantitative","scale":{"domain":[-3.3,63.4],"nice":false,"zero":false},"axis":{"values":[0,10,20,30,40,50,60],"tickCount":10,"format":".2f","title":"EIF1AX","tickSize":4,"labelPadding":3.5,"titlePadding":2.5,"tickColor":"#888"}},
      "y":{"field":"cg00063477","type":"quantitative","scale":{"domain":[-0.058,1.058],"nice":false,"zero":false},"axis":{"values":[0,0.2,0.4,0.6,0.8,1],"tickCount":10,"format":".2f","title":"cg00063477","tickSize":4,"labelPadding":1.5,"titlePadding":6,"tickColor":"#888"}}}},
    {"data":{"name":"fitD"},"mark":{"type":"line","color":"#e8828a","strokeWidth":1,"clip":true},
     "encoding":{"x":{"field":"EIF1AX","type":"quantitative"},"y":{"field":"cg00063477","type":"quantitative"}}},
    {"data":{"values":[{}]},"mark":{"type":"text","align":"right","baseline":"middle","dx":-3.5,"fontSize":11.5,"color":"#1a1a1a"},
     "encoding":{"x":{"datum":63.4},"y":{"datum":0.165},"text":{"value":"R Sq linear=0.231"}}},
    {"data":{"values":[{}]},"mark":{"type":"text","align":"center","baseline":"middle","fontSize":17,"color":"#111"},
     "encoding":{"x":{"datum":-14.9},"y":{"datum":1.023},"text":{"value":"D"}}}
   ]}
 ]},
 {"spacing":34.3,"resolve":{"scale":{"color":"independent"},"legend":{"color":"independent"}},"vconcat":[
  {"spacing":-6.9,"resolve":{"scale":{"color":"independent"},"legend":{"color":"independent"}},"vconcat":[
   {"width":274,"height":5.6,"data":{"values":[]},"mark":"point","view":{"stroke":null}},
   {"width":274,"height":168.5,"view":{"stroke":"#222"},
    "layer":[
     {"data":{"name":"kmC"},"mark":{"type":"line","interpolate":"step-after","strokeWidth":1},
      "encoding":{
       "x":{"field":"time","type":"quantitative","scale":{"domain":[-0.75,157.6],"nice":false,"zero":false},"axis":{"values":[0,50,100,150],"tickCount":10,"title":"Time (months)","tickSize":6,"labelPadding":3,"titlePadding":2.5}},
       "y":{"field":"prob","type":"quantitative","scale":{"domain":[-0.042,1.042],"nice":false,"zero":false},"axis":{"values":[0,0.2,0.4,0.6,0.8,1],"tickCount":10,"format":".1f","labelAngle":-90,"labelAlign":"center","labelBaseline":"bottom","tickSize":4,"labelPadding":1,"title":"Probability","titlePadding":2.5}},
       "color":{"field":"Expression","type":"nominal","scale":{"domain":["Low","High"],"range":["#000000","#f21c1c"]},
        "legend":{"orient":"bottom-left","title":"Expression","symbolType":"stroke","symbolSize":256,"symbolStrokeWidth":1,"symbolOffset":3,"clipHeight":10,"rowPadding":0,"titlePadding":0,"labelOffset":1,"offset":2,"padding":0,"labelFontSize":11.5,"titleFontSize":11.5,"titleFontWeight":"normal","labelColor":"#111","titleColor":"#111"}}}},
     {"data":{"name":"censorC"},"mark":{"type":"point","shape":"M-1,0H1M0,-1V1","filled":false,"size":30,"strokeWidth":1,"opacity":1},
      "encoding":{"x":{"field":"time","type":"quantitative"},"y":{"field":"prob","type":"quantitative"},
       "color":{"condition":{"test":"datum.Expression === 'High'","value":"#f21c1c"},"value":"#000000"}}},
     {"data":{"values":[{}]},"mark":{"type":"text","align":"right","baseline":"top","dx":-3,"dy":4.5,"fontSize":11.5,"lineHeight":13.3,"color":"#111"},
      "encoding":{"x":{"datum":157.6},"y":{"datum":1.042},"text":{"value":["HR=0.79 (0.63-0.98)","Logrank P=0.031"]}}}
    ]},
   {"width":274,"height":36,"title":{"text":"Number at risk","anchor":"start","frame":"group","offset":5,"dx":3.5,"fontSize":11.5},"view":{"stroke":null},
    "data":{"name":"riskC"},
    "mark":{"type":"text","fontSize":11.5,"baseline":"middle"},
    "encoding":{
     "x":{"field":"time","type":"quantitative","scale":{"domain":[-0.75,157.6],"nice":false,"zero":false},"axis":null},
     "y":{"field":"Expression","type":"nominal","scale":{"domain":["Low","High"]},"axis":{"title":null,"ticks":false,"domain":false,"labelPadding":12,"labelFontSize":11.5,"labelColor":{"condition":{"test":"datum.value === 'High'","value":"#f21c1c"},"value":"#111"}}},
     "text":{"field":"n","type":"quantitative"},
     "color":{"condition":{"test":"datum.Expression === 'High'","value":"#f21c1c"},"value":"#111"}}}
  ]},
  {"spacing":-5.5,"resolve":{"scale":{"color":"independent"},"legend":{"color":"independent"}},"vconcat":[
   {"width":288,"height":168.4,"view":{"stroke":"#222"},
    "layer":[
     {"data":{"name":"kmD"},"mark":{"type":"line","interpolate":"step-after","strokeWidth":1},
      "encoding":{
       "x":{"field":"time","type":"quantitative","scale":{"domain":[-2.04,156.4],"nice":false,"zero":false},"axis":{"values":[0,50,100,150],"tickCount":10,"title":"Time (months)","tickSize":5,"labelPadding":1.5,"titlePadding":2}},
       "y":{"field":"prob","type":"quantitative","scale":{"domain":[-0.042,1.042],"nice":false,"zero":false},"axis":{"values":[0,0.2,0.4,0.6,0.8,1],"tickCount":10,"format":".1f","labelAngle":-90,"labelAlign":"center","labelBaseline":"bottom","tickSize":4,"labelPadding":2,"title":"Probability","titlePadding":5}},
       "color":{"field":"Expression","type":"nominal","scale":{"domain":["Low","High"],"range":["#000000","#f21c1c"]},
        "legend":{"orient":"bottom-left","title":"Expression","symbolType":"stroke","symbolSize":256,"symbolStrokeWidth":1,"symbolOffset":3,"clipHeight":10,"rowPadding":0,"titlePadding":0,"labelOffset":1,"offset":2,"padding":0,"labelFontSize":11.5,"titleFontSize":11.5,"titleFontWeight":"normal","labelColor":"#111","titleColor":"#111"}}}},
     {"data":{"name":"censorD"},"mark":{"type":"point","shape":"M-1,0H1M0,-1V1","filled":false,"size":30,"strokeWidth":1,"opacity":1},
      "encoding":{"x":{"field":"time","type":"quantitative"},"y":{"field":"prob","type":"quantitative"},
       "color":{"condition":{"test":"datum.Expression === 'High'","value":"#f21c1c"},"value":"#000000"}}},
     {"data":{"values":[{}]},"mark":{"type":"text","align":"right","baseline":"top","dx":-6,"dy":4.5,"fontSize":11.5,"lineHeight":12.7,"color":"#111"},
      "encoding":{"x":{"datum":156.4},"y":{"datum":1.042},"text":{"value":["HR=0.47 (0.39-0.56)","Logrank P<0.0001"]}}}
    ]},
   {"width":288,"height":33.5,"title":{"text":"Number at risk","anchor":"start","frame":"group","offset":5,"dx":4.3,"fontSize":11.5},"view":{"stroke":null},
    "data":{"name":"riskD"},
    "mark":{"type":"text","fontSize":11.5,"baseline":"middle"},
    "encoding":{
     "x":{"field":"time","type":"quantitative","scale":{"domain":[-2.04,156.4],"nice":false,"zero":false},"axis":null},
     "y":{"field":"Expression","type":"nominal","scale":{"domain":["Low","High"]},"axis":{"title":null,"ticks":false,"domain":false,"labelPadding":12.3,"labelFontSize":11.5,"labelColor":{"condition":{"test":"datum.value === 'High'","value":"#f21c1c"},"value":"#111"}}},
     "text":{"field":"n","type":"quantitative"},
     "color":{"condition":{"test":"datum.Expression === 'High'","value":"#f21c1c"},"value":"#111"}}}
  ]}
 ]}
]
}
